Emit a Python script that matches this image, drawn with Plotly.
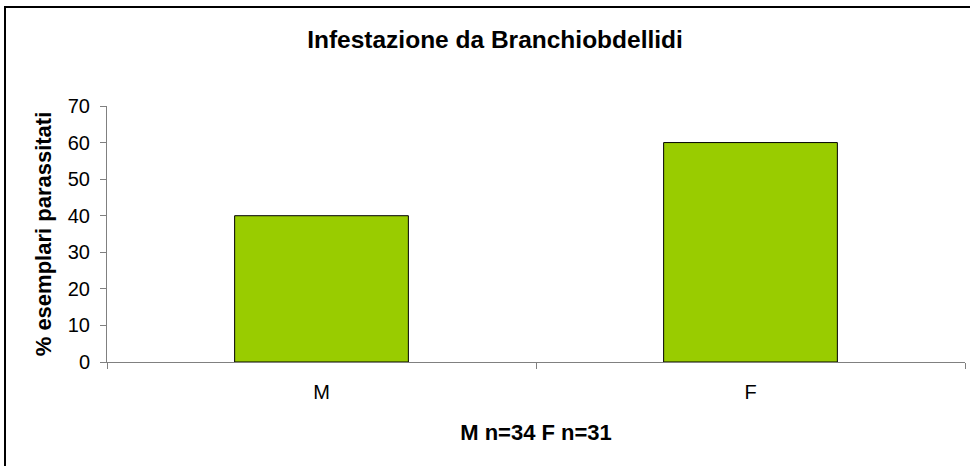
import plotly.graph_objects as go

categories = ["M", "F"]
values = [40, 60]
y_ticks = [0, 10, 20, 30, 40, 50, 60, 70]

FONT = "Liberation Sans, Arial, sans-serif"

L, R, T, B = 107, 5, 106, 104
PW, PH = 970 - L - R, 466 - T - B

fig = go.Figure(go.Bar(
    x=categories, y=values,
    marker=dict(color="#99CC00", line=dict(color="#000000", width=1)),
    width=0.405,
))

fig.update_layout(
    width=970, height=466,
    margin=dict(l=L, r=R, t=T, b=B),
    paper_bgcolor="white", plot_bgcolor="white",
    font=dict(family=FONT, color="#000000", size=20),
    showlegend=False,
    title=dict(text="<b>Infestazione da Branchiobdellidi</b>", x=495 / 970, xanchor="center",
               y=1 - 39 / 466, yref="container", yanchor="middle",
               font=dict(size=24.5, family=FONT)),
)

fig.update_xaxes(
    type="category", automargin=False, showline=True, linecolor="#808080", linewidth=1,
    ticks="outside", tickson="boundaries", ticklen=6, tickcolor="#808080",
    showgrid=False, tickfont=dict(size=20), ticklabelstandoff=12,
    title=dict(text="<b>M n=34 F n=31</b>", font=dict(size=22), standoff=22),
)
fig.update_yaxes(
    range=[0, 70], tickvals=y_ticks, automargin=False, showline=True, linecolor="#808080",
    linewidth=1, ticks="outside", ticklen=6, tickcolor="#808080", showgrid=False,
    zeroline=False, tickfont=dict(size=20), ticklabelstandoff=6,
    title=dict(text="<b>% esemplari parassitati</b>", font=dict(size=22), standoff=10),
)

fig.add_shape(type="rect", xref="paper", yref="paper",
              x0=(5 - L) / PW, x1=(980 - L) / PW,
              y0=(362 - 480) / PH, y1=(362 - 7) / PH,
              line=dict(color="#000000", width=2), fillcolor="rgba(0,0,0,0)", layer="below")

fig.write_html("out.html", config={"displayModeBar": False},
               post_script="document.body.style.margin='0';")
